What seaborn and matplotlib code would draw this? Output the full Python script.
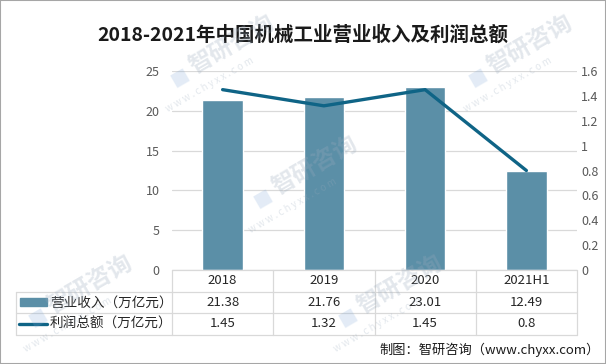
import numpy as np
import matplotlib
matplotlib.use("Agg")
import matplotlib.pyplot as plt
import seaborn as sns
from matplotlib.patches import Rectangle
from matplotlib.lines import Line2D
from matplotlib.transforms import blended_transform_factory
from matplotlib.ticker import FuncFormatter

# data
categories = ['2018', '2019', '2020', '2021H1']
revenue = [21.38, 21.76, 23.01, 12.49]   # 营业收入（万亿元）
profit = [1.45, 1.32, 1.45, 0.8]         # 利润总额（万亿元）
series_names = ['营业收入（万亿元）', '利润总额（万亿元）']
title = '2018-2021年中国机械工业营业收入及利润总额'
source = '制图：智研咨询（www.chyxx.com）'

bar_color = '#5b8fa7'
line_color = '#0f6486'
grid_color = '#d9d9d9'
tick_color = '#595959'

sns.set_style('white')
plt.rcParams['font.family'] = ['Noto Sans CJK SC', 'DejaVu Sans']

W, H = 606, 364
fig = plt.figure(figsize=(W / 100, H / 100), dpi=100)
left, right, top, bottom = 172, 577, 71, 270
ax = fig.add_axes([left / W, 1 - bottom / H, (right - left) / W, (bottom - top) / H])

pos = np.arange(len(categories))
sns.barplot(x=pos, y=revenue, ax=ax, color=bar_color, width=0.4, saturation=1)
ax.set_xlim(-0.5, len(categories) - 0.5)
ax.set_ylim(0, 25)
ax.set_yticks(np.arange(0, 26, 5))
ax.yaxis.grid(True, color=grid_color, lw=0.9)
ax.set_axisbelow(True)
ax.set_xticks([])
ax.set_xlabel('')
ax.tick_params(axis='y', length=0, pad=9, labelsize=9, labelcolor=tick_color)

ax2 = ax.twinx()
sns.lineplot(x=pos, y=profit, ax=ax2, color=line_color, lw=2.4)
ax2.set_ylim(0, 1.6)
ax2.set_yticks(np.arange(0, 1.61, 0.2))
ax2.yaxis.set_major_formatter(FuncFormatter(lambda v, p: f'{v:g}'))
ax2.tick_params(axis='y', length=0, pad=3, labelsize=9, labelcolor=tick_color)
ax2.set_xticks([])

for a in (ax, ax2):
    for s in a.spines.values():
        s.set_visible(False)

# data table under the plot
h = 21.5 / (bottom - top)
trans = blended_transform_factory(ax.transData, ax.transAxes)
tab_left = (16 - left) / (right - left)
lk = dict(color=grid_color, lw=0.9, clip_on=False)
ax.add_line(Line2D([-0.5, len(categories) - 0.5], [0, 0], transform=trans, **lk))
for k in range(1, 4):
    ax.add_line(Line2D([tab_left, 1], [-k * h, -k * h], transform=ax.transAxes, **lk))
for xb in np.arange(-0.5, len(categories), 1.0):
    ax.add_line(Line2D([xb, xb], [0, -3 * h], transform=trans, **lk))
ax.add_line(Line2D([tab_left, tab_left], [-h, -3 * h], transform=ax.transAxes, **lk))

txt = dict(ha='center', va='center', fontsize=9.5, color='#262626', clip_on=False)
for i, c in enumerate(categories):
    ax.text(i, -0.5 * h, c, transform=trans, **txt)
    ax.text(i, -1.5 * h, f'{revenue[i]:g}', transform=trans, **txt)
    ax.text(i, -2.5 * h, f'{profit[i]:g}', transform=trans, **txt)

# legend keys in the row headers
px = lambda x: (x - left) / (right - left)
py = lambda y: (bottom - y) / (bottom - top)
ax.add_patch(Rectangle((px(20), py(306)), px(47) - px(20), py(298) - py(306),
                       transform=ax.transAxes, color=bar_color, clip_on=False))
ax.add_line(Line2D([px(19), px(47)], [-2.5 * h, -2.5 * h], transform=ax.transAxes,
                   color=line_color, lw=2.4, clip_on=False))
for k, name in enumerate(series_names):
    ax.text(px(50), -(1.5 + k) * h, name, transform=ax.transAxes, ha='left',
            va='center', fontsize=9.8, color='#262626', clip_on=False)

fig.text(0.5, 1 - 35 / H, title, ha='center', va='center', fontsize=14,
         fontweight='bold', color='#1a1a1a')
fig.text(600 / W, 1 - 350 / H, source, ha='right', va='center', fontsize=9.5,
         color='#1a1a1a')

# faint watermarks (kept inside the frame)
wm_pos = [(232, 44), (530, 44), (315, 165), (90, 284), (400, 284)]
ang = np.deg2rad(30)
for wx, wy in wm_pos:
    fig.text(wx / W, 1 - wy / H, '智研咨询', rotation=30, ha='center', va='center',
             fontsize=17, fontweight='bold', color='#9aabbd', alpha=0.28, zorder=10)
    ox = wx - 40 * np.cos(ang) + 24 * np.sin(ang)
    oy = wy + 40 * np.sin(ang) + 24 * np.cos(ang)
    fig.text(ox / W, 1 - oy / H, 'w w w . c h y x x . c o m', rotation=30,
             ha='center', va='center', fontsize=7, color='#9aabbd', alpha=0.28,
             zorder=10)
    lx = wx - 62 * np.cos(ang) + 4 * np.sin(ang)
    ly = wy + 62 * np.sin(ang) + 4 * np.cos(ang)
    fig.text(lx / W, 1 - ly / H, '■', rotation=30, ha='center', va='center',
             fontsize=13, color='#7fa6d6', alpha=0.22, zorder=10)

fig.patches.append(Rectangle((0, 0), 1, 1, transform=fig.transFigure, fill=False,
                             ec='#a6a6a6', lw=1.5))

fig.savefig('out.png', dpi=100)
